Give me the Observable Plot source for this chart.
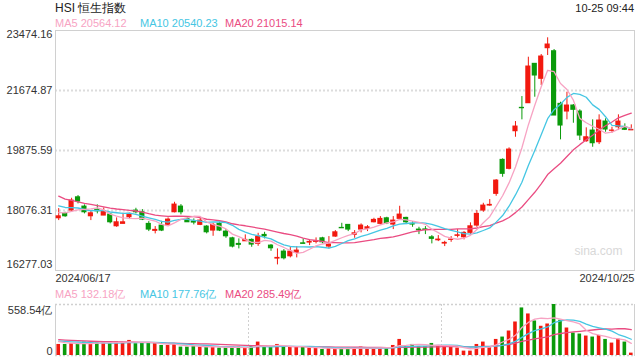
<!DOCTYPE html>
<html>
<head>
<meta charset="utf-8">
<script src="https://cdn.jsdelivr.net/npm/d3@7"></script>
<script src="https://cdn.jsdelivr.net/npm/@observablehq/plot@0.6"></script>
<style>
  html, body { margin: 0; padding: 0; background: #fff; }
  #root { position: relative; width: 640px; height: 360px; overflow: hidden;
          font-family: "Liberation Sans", Arial, sans-serif; color: #333; }
  .t { position: absolute; white-space: nowrap; line-height: 13px; font-size: 11px; }
  svg { overflow: visible; }
</style>
</head>
<body>
<div id="root"></div>
<script>
// ---- data ----
const title = "HSI 恒生指数";
const stamp = "10-25 09:44";
const dateLabels = ["2024/06/17", "2024/10/25"];
const yTicks = [16277.03, 18076.31, 19875.59, 21674.87, 23474.16];
const volMax = 558.54;
const volUnit = "亿";
const maNames = ["MA5", "MA10", "MA20"];
const maPeriods = [5, 10, 20];
const maLegendPrice = ["20564.12", "20540.23", "21015.14"];
const maLegendVol = ["132.18", "177.76", "285.49"];

const opens  = [17843,17975,18074,18473,18194,17903,18095,17924,17954,17603,17675,17873,18074,18023,17675,17465,17624,17645,18023,18194,
                17825,17744,17645,17594,17474,17675,17444,17243,17075,17153,17195,17075,17345,17024,16634,16844,16703,16805,17093,17114,
                17135,17243,16994,17294,17555,17645,17345,17504,17525,17723,17675,17843,17654,17825,17855,17675,17504,17510,17273,17183,
                17084,17195,17315,17273,17405,17624,18074,18224,18575,19595,19325,20453,21155,21293,22475,22025,22943,22853,21275,21044,
                21224,21044,20153,20474,20123,20744,20465,20573,20573,20480];
const highs  = [18134,18023,18443,18524,18245,18053,18245,18155,17975,17855,17993,17993,18143,18104,17744,17594,17753,17855,18323,18254,
                17873,17825,17843,17624,17693,17723,17504,17273,17225,17345,17225,17393,17423,17054,16925,16904,16973,16994,17225,17195,
                17255,17273,17294,17474,17693,17654,17474,17675,17624,17843,17894,17873,17894,18203,17873,17744,17573,17594,17324,17324,
                17153,17294,17504,17444,17705,18074,18293,18404,19004,19625,19955,20744,21494,22673,22475,22754,23255,22904,21323,21623,
                21254,21095,20555,20795,20945,20825,20573,20945,20675,20645];
const lows   = [17774,17873,18053,18275,17975,17774,17975,17924,17675,17573,17675,17804,17975,17774,17444,17375,17444,17624,18005,17945,
                17723,17645,17624,17375,17303,17444,17243,16955,16925,17153,16973,17003,17225,16853,16445,16595,16655,16655,17075,17024,
                17075,17075,16925,17273,17543,17444,17243,17405,17444,17705,17645,17654,17504,17795,17654,17573,17354,17354,17075,17144,
                16994,17123,17255,17195,17354,17573,18023,18203,18503,19073,19295,20273,20795,21293,21473,21824,22724,20924,20195,20795,
                20693,20174,20123,19973,20054,20423,20393,20474,20474,20474];
const closes = [17903,17903,18374,18344,18023,17993,18053,18053,17723,17723,17723,17975,18023,17804,17504,17495,17474,17804,18254,18023,
                17723,17714,17774,17423,17645,17474,17303,16994,17045,17195,17054,17294,17303,16943,16655,16643,16844,16874,17075,17135,
                17153,17123,17054,17423,17543,17504,17393,17624,17573,17795,17825,17693,17774,17954,17723,17654,17483,17490,17225,17204,
                17105,17204,17333,17405,17603,17975,18224,18245,18974,19175,19904,20594,21143,22394,22124,22694,23054,20924,20624,21224,
                21095,20324,20273,20093,20774,20504,20474,20744,20495,20495];
const volumes = [121,121,129,129,147,129,140,147,147,147,140,165,129,140,140,129,110,110,129,92,
                 92,101,92,101,92,81,85,92,92,85,101,147,92,92,121,92,92,92,92,81,
                 81,66,81,74,81,81,74,92,81,81,85,85,110,176,99,121,99,99,132,110,
                 101,92,81,48,48,121,147,92,176,202,268,367,521,455,378,320,345,558.54,386,301,
                 246,235,213,202,220,176,136,180,147,26];
// estimated sessions before the window, used only to seed the moving averages
const priorCloses  = [19636,19221,19195,18868,18609,18828,18821,18477,18230,18080,18403,18444,18425,18476,18367,17917,18176,18113,17942];
const priorVolumes = [230,210,200,195,190,185,180,175,170,175,165,170,160,165,160,175,160,155,150];

// ---- styles ----
const RED = "#f2190f", GREEN = "#0a9a0a";
const maColors = ["#f7a3c3", "#45c6e3", "#ea4c82"];
const GRID = "#dcdcdc", FRAME = "#d0d0d0";
const FONT = "'Liberation Sans', Arial, sans-serif";

const n = closes.length;
const rows = d3.range(n).map(i => ({
  i, open: opens[i], high: highs[i], low: lows[i], close: closes[i], vol: volumes[i],
  color: closes[i] >= opens[i] ? RED : GREEN
}));
function movingAverage(series, prior, k) {
  const all = prior.concat(series);
  return series.map((_, i) => d3.mean(all.slice(i + prior.length - k + 1, i + prior.length + 1)));
}
const maRows = [];
maPeriods.forEach((k, j) => {
  const mp = movingAverage(closes, priorCloses, k);
  const mv = movingAverage(volumes, priorVolumes, k);
  mp.forEach((v, i) => maRows.push({i, name: maNames[j], price: v, vol: mv[i], color: maColors[j]}));
});
const maOrder = [2, 1, 0]; // draw MA20 first, MA5 on top
const xDomain = [-0.5, n - 0.5];
const thirds = [1, 2].map(k => k * n / 3 - 0.5);

const root = document.getElementById("root");
function addText(txt, left, top, opts = {}) {
  const d = document.createElement("div");
  d.className = "t";
  d.textContent = txt;
  if (left != null) d.style.left = left + "px";
  if (opts.right != null) d.style.right = opts.right + "px";
  d.style.top = top + "px";
  if (opts.color) d.style.color = opts.color;
  if (opts.size) d.style.fontSize = opts.size + "px";
  if (opts.lh) d.style.lineHeight = opts.lh + "px";
  root.appendChild(d);
}
addText(title, 55, 1, {size: 12, lh: 14, color: "#222"});
addText(stamp, null, 2, {right: 6, color: "#222"});
const legendX = [55, 140, 225];
maNames.forEach((nm, j) => addText(`${nm} ${maLegendPrice[j]}`, legendX[j], 17, {color: maColors[j]}));
maNames.forEach((nm, j) => addText(`${nm} ${maLegendVol[j]}${volUnit}`, legendX[j], 288, {color: maColors[j]}));

// ---- main candlestick panel ----
const fmt = d3.format(".2f");
const main = Plot.plot({
  width: 640, height: 270, marginTop: 10, marginBottom: 20, marginLeft: 55, marginRight: 6,
  style: {fontFamily: FONT, fontSize: "11px", color: "#333", background: "transparent"},
  x: {type: "linear", domain: xDomain, axis: null},
  y: {domain: [yTicks[0], yTicks[yTicks.length - 1]], axis: null},
  marks: [
    Plot.ruleY(yTicks.slice(1, -1), {stroke: GRID, strokeDasharray: "2,2", strokeWidth: 2}),
    Plot.frame({stroke: FRAME}),
    Plot.text(["sina.com"], {frameAnchor: "bottom-right", dx: -12, dy: -16, fill: "#d8d8d8", fontSize: 12}),
    Plot.ruleX(rows, {x: "i", y1: "low", y2: "high", stroke: "color", strokeWidth: 1}),
    Plot.rectY(rows, {x1: d => d.i - 0.4, x2: d => d.i + 0.4, y1: "open", y2: "close", fill: "color",
                      insetTop: -0.5, insetBottom: -0.5}),
    ...maOrder.map(j => Plot.lineY(maRows.filter(d => d.name === maNames[j]),
        {x: "i", y: "price", stroke: maColors[j], strokeWidth: 1.3, curve: "linear"})),
    Plot.text(yTicks.slice(1, -1), {y: d => d, text: d => fmt(d), frameAnchor: "left", textAnchor: "end", dx: -3, fill: "#333"}),
    Plot.text([yTicks[yTicks.length - 1]], {y: d => d, text: d => fmt(d), frameAnchor: "left", textAnchor: "end", dx: -3, lineAnchor: "top", dy: 0, fill: "#333"}),
    Plot.text([yTicks[0]], {y: d => d, text: d => fmt(d), frameAnchor: "left", textAnchor: "end", dx: -3, lineAnchor: "bottom", dy: -3, fill: "#333"}),
    Plot.text([dateLabels[0]], {frameAnchor: "bottom-left", textAnchor: "start", lineAnchor: "top", dy: 4, fill: "#333"}),
    Plot.text([dateLabels[1]], {frameAnchor: "bottom-right", textAnchor: "end", lineAnchor: "top", dy: 4, fill: "#333"})
  ]
});
main.style.position = "absolute";
main.style.left = "0px";
main.style.top = "20px";
root.appendChild(main);

// ---- volume panel ----
const vol = Plot.plot({
  width: 640, height: 60, marginTop: 4, marginBottom: 5, marginLeft: 55, marginRight: 6,
  style: {fontFamily: FONT, fontSize: "11px", color: "#333", background: "transparent"},
  x: {type: "linear", domain: xDomain, axis: null},
  y: {domain: [0, volMax], axis: null},
  marks: [
    Plot.ruleY([0, volMax], {stroke: FRAME, strokeDasharray: "2,2", strokeWidth: 1.5}),
    Plot.ruleX(thirds, {stroke: FRAME, strokeDasharray: "2,2"}),
    Plot.frame({anchor: "left", stroke: FRAME}),
    Plot.frame({anchor: "right", stroke: FRAME}),
    Plot.rectY(rows, {x1: d => d.i - 0.28, x2: d => d.i + 0.28, y1: 0, y2: "vol", fill: "color"}),
    ...maOrder.map(j => Plot.lineY(maRows.filter(d => d.name === maNames[j]),
        {x: "i", y: "vol", stroke: maColors[j], strokeWidth: 1.3})),
    Plot.text([volMax], {y: d => d, text: d => fmt(d) + volUnit, frameAnchor: "left", textAnchor: "end", dx: -3, lineAnchor: "top", dy: 2, fill: "#333"}),
    Plot.text([0], {y: d => d, text: d => String(d), frameAnchor: "left", textAnchor: "end", dx: -3, lineAnchor: "bottom", dy: -1, fill: "#333"})
  ]
});
vol.style.position = "absolute";
vol.style.left = "0px";
vol.style.top = "300px";
root.appendChild(vol);
</script>
</body>
</html>
